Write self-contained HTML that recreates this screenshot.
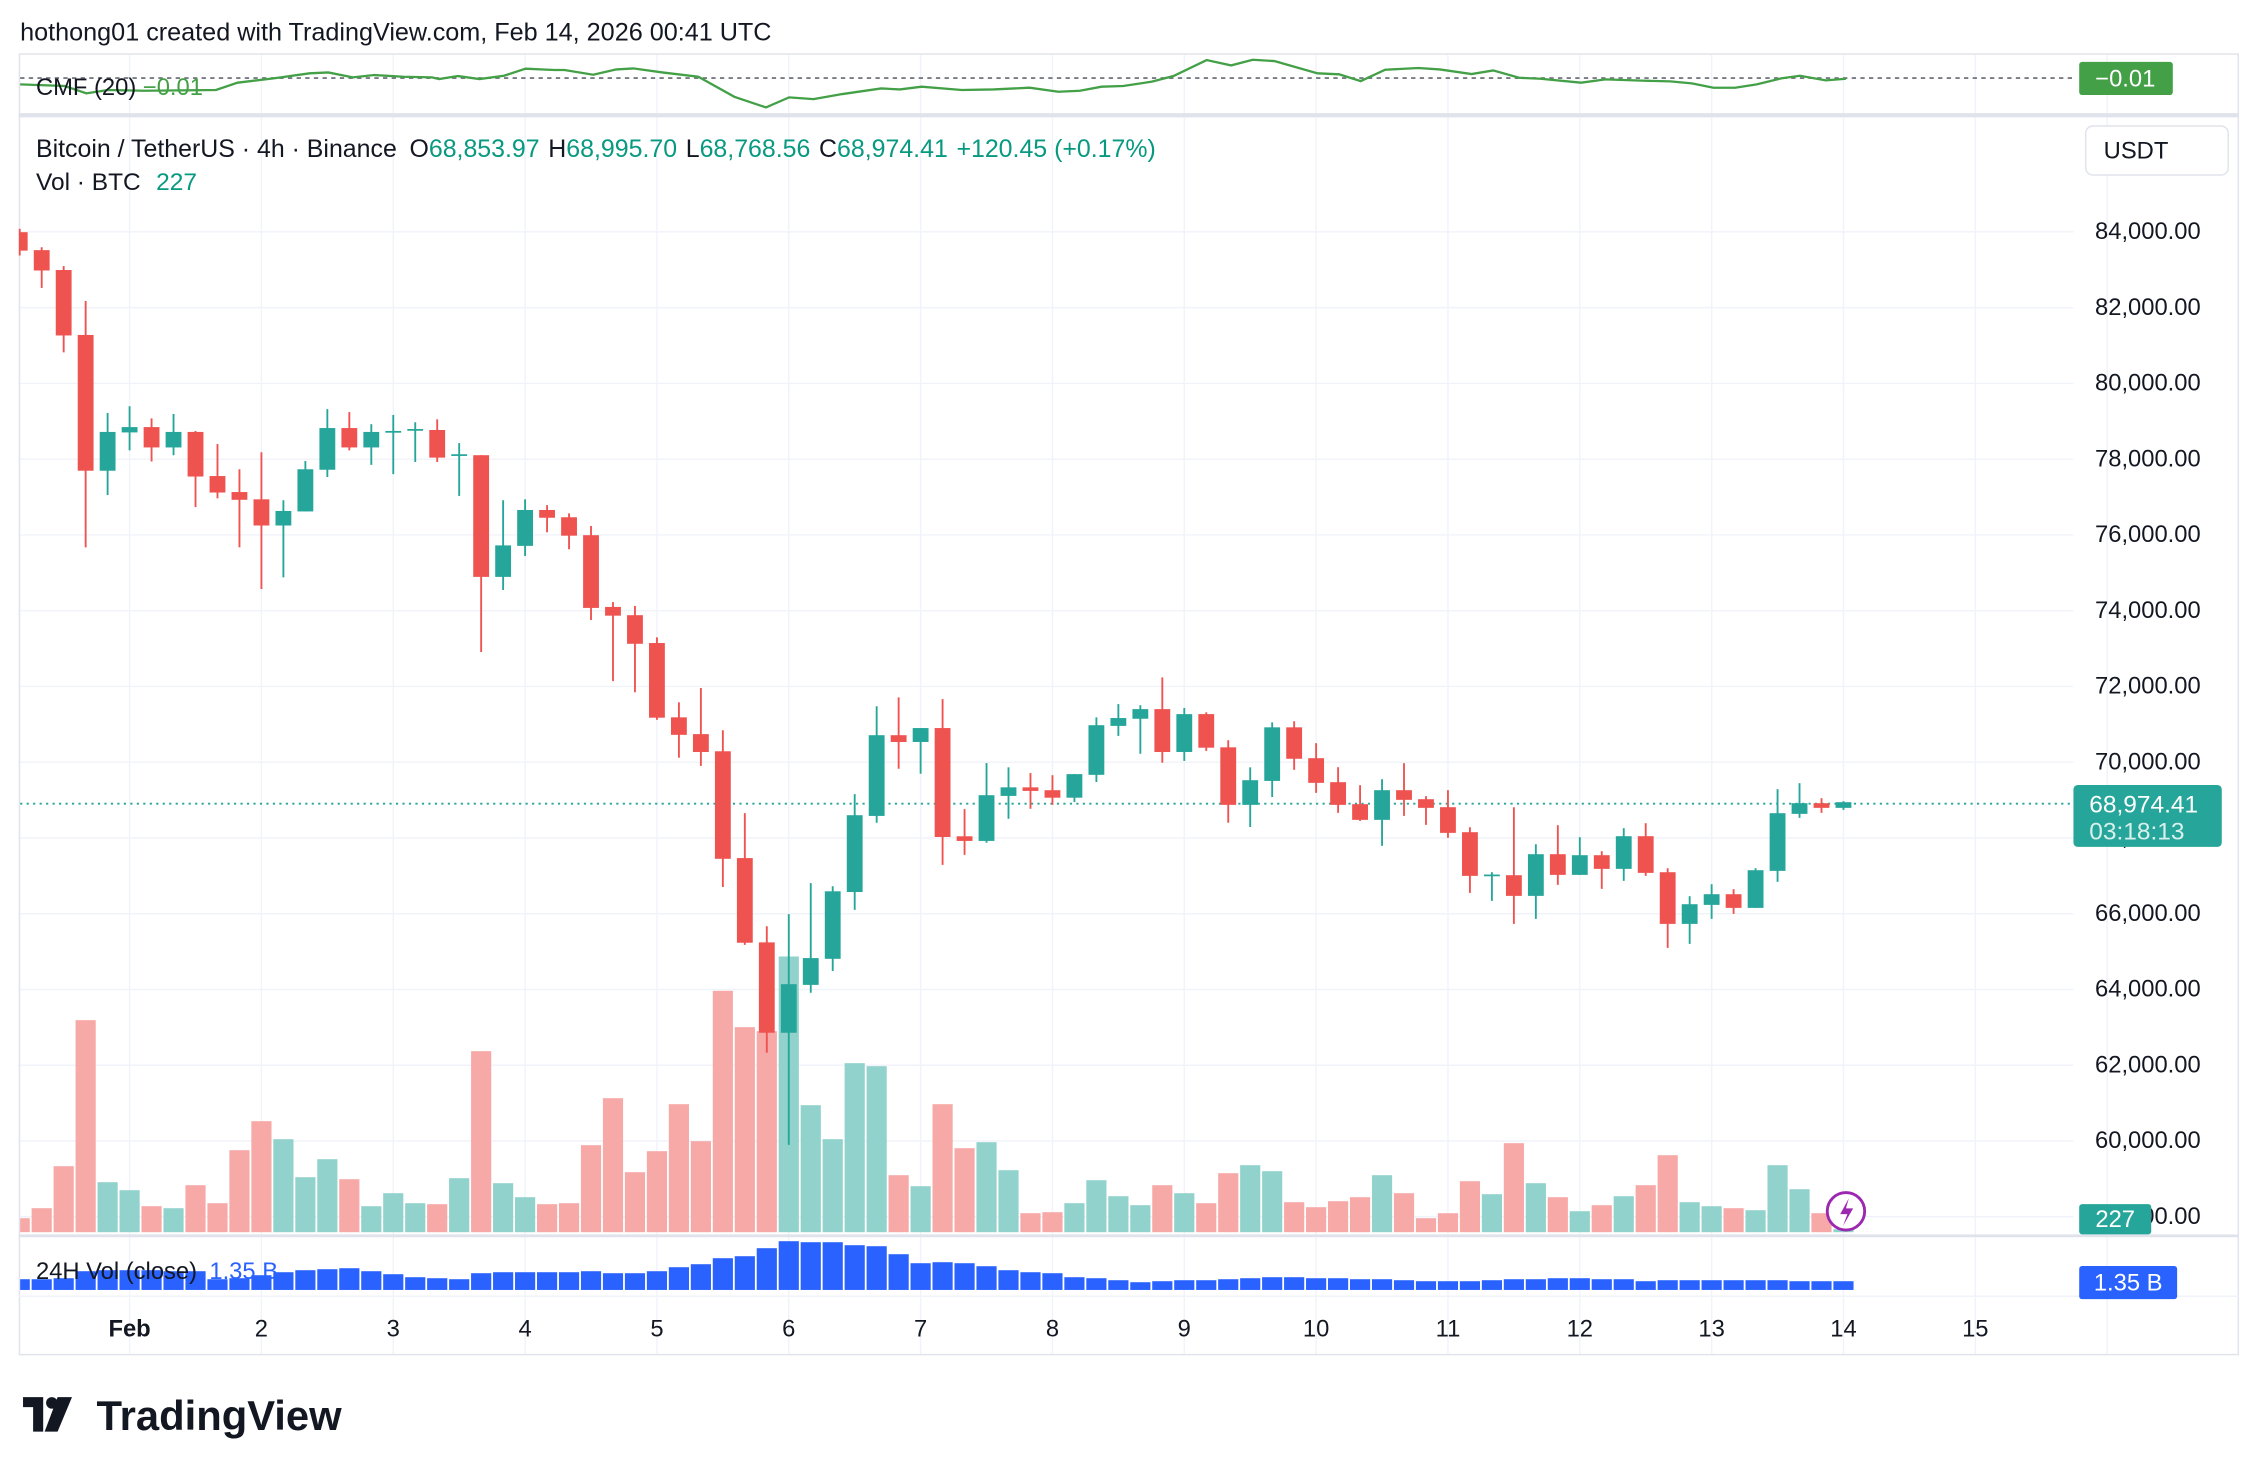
<!DOCTYPE html>
<html><head><meta charset="utf-8"><style>
html,body{margin:0;padding:0;background:#fff;}
svg{display:block;font-family:"Liberation Sans",sans-serif;}
</style></head><body>
<svg id="s" width="2252" height="1472" viewBox="0 0 1564 1022" preserveAspectRatio="none" xmlns="http://www.w3.org/2000/svg">
<rect width="1564" height="1022" fill="#fff"/>
<g id="grid"></g>
<rect x="13.5" y="37.5" width="1541" height="903" fill="none" stroke="#e0e3eb" stroke-width="1"/>
<line x1="13" y1="80" x2="1555" y2="80" stroke="#e0e3eb" stroke-width="3"/>
<line x1="13" y1="858" x2="1555" y2="858" stroke="#e0e3eb" stroke-width="2"/>
<line x1="13" y1="900" x2="1555" y2="900" stroke="#f0f3fa" stroke-width="1"/>
<g id="vol"></g>
<g id="vol24"></g>
<line x1="14" y1="558" x2="1440" y2="558" stroke="#26a69a" stroke-width="1.3" stroke-dasharray="1.5 3"/>
<line x1="14" y1="54.2" x2="1440" y2="54.2" stroke="#787b86" stroke-width="1.3" stroke-dasharray="3 3"/>
<polyline id="cmf" fill="none" stroke="#43a047" stroke-width="1.6"/>
<g id="candles"></g>
<text x="14" y="28" font-size="17.5" fill="#131722">hothong01 created with TradingView.com, Feb 14, 2026 00:41 UTC</text>
<text x="25" y="66" font-size="16.5" fill="#131722">CMF (20) <tspan fill="#43a047">−0.01</tspan></text>
<text x="25" y="109" font-size="17.3" fill="#131722">Bitcoin / TetherUS · 4h · Binance <tspan dx="4">O</tspan><tspan fill="#089981">68,853.97</tspan><tspan dx="6">H</tspan><tspan fill="#089981">68,995.70</tspan><tspan dx="6">L</tspan><tspan fill="#089981">68,768.56</tspan><tspan dx="6">C</tspan><tspan fill="#089981">68,974.41</tspan><tspan dx="6" fill="#089981">+120.45 (+0.17%)</tspan></text>
<text x="25" y="132" font-size="17" fill="#131722">Vol · BTC <tspan dx="6" fill="#089981">227</tspan></text>
<text x="25" y="888" font-size="16.5" fill="#131722">24H Vol (close) <tspan dx="4" fill="#2962ff">1.35 B</tspan></text>
<g id="prices" font-size="16.5" fill="#131722"></g>
<rect x="1448.5" y="87.5" width="99" height="34" rx="5" fill="#fff" stroke="#e0e3eb"/>
<text x="1461" y="110" font-size="16.5" fill="#131722">USDT</text>
<rect x="1444" y="43" width="65" height="23" rx="2" fill="#43a047"/>
<text x="1476" y="60" font-size="16.5" fill="#fff" text-anchor="middle">−0.01</text>
<rect x="1440" y="545" width="103" height="43" rx="3" fill="#26a69a"/>
<text x="1451" y="564" font-size="17" fill="#fff">68,974.41</text>
<text x="1451" y="583" font-size="17" fill="#d8f0ec">03:18:13</text>
<rect x="1444" y="836" width="50" height="21" rx="2" fill="#26a69a"/>
<text x="1469" y="852" font-size="16.5" fill="#fff" text-anchor="middle">227</text>
<rect x="1444" y="879" width="68" height="23" rx="2" fill="#2962ff"/>
<text x="1478" y="896" font-size="16.5" fill="#fff" text-anchor="middle">1.35 B</text>
<circle cx="1282" cy="841" r="13" fill="#fff" stroke="#9c27b0" stroke-width="2"/>
<path d="M1284 832 L1278 843 L1283 843 L1280 851 L1287 839 L1282 839 Z" fill="#9c27b0"/>
<g id="days" font-size="16.5" fill="#131722" text-anchor="middle"></g>
<g transform="translate(16,970)">
<path d="M0 0 H14 V24 H7 V7 H0 Z" fill="#131722"/>
<circle cx="20" cy="4" r="4" fill="#131722"/>
<path d="M24 0 H34 L24 24 H15 Z" fill="#131722"/>
</g>
<text x="67" y="993" font-size="29" font-weight="bold" fill="#131722">TradingView</text>
</svg>
<script>
var NS="http://www.w3.org/2000/svg";
function el(p,t,a){var e=document.createElementNS(NS,t);for(var k in a)e.setAttribute(k,a[k]);document.getElementById(p).appendChild(e);return e;}
var SP=15.26;function X(i){return 90+SP*i;}
for(var k=0;k<=15;k++){var x=90+k*SP*6;el("grid","line",{x1:x,y1:38,x2:x,y2:940,stroke:"#f0f3fa","stroke-width":1});}
for(var p=84000;p>=58000;p-=2000){var y=161+(84000-p)/2000*52.6;el("grid","line",{x1:14,y1:y,x2:1440,y2:y,stroke:"#f0f3fa","stroke-width":1});
 var t=el("prices","text",{x:1455,y:y+5});t.textContent=(p/1000).toFixed(0)+",000.00";}
var dl=["Feb","2","3","4","5","6","7","8","9","10","11","12","13","14","15"];
for(var k=0;k<dl.length;k++){var t=el("days","text",{x:90+k*SP*6,y:928});if(k==0)t.setAttribute("font-weight","bold");t.textContent=dl[k];}
var Z=[function(z){return 152.8+z/2.971},function(z){return 402.8+z/4.032},function(z){return 451.4+z/4.32}];
var C=[
[-5,18,25,63,73,1,0],[-4,56,62,104,140,1,0],[-3,95,103,238,273,1,0],[-2,167,237,517,675,1,0],[-1,398,437,517,567,0,0],
[0,384,427,438,475,0,0],[1,409,427,469,498,1,0],[2,400,437,469,485,0,0],[3,435,437,529,592,1,0],[4,462,528,562,574,1,0],
[5,514,561,577,675,1,0],[6,479,576,630,761,1,0],[7,578,600,630,737,0,0],[8,497,514,601,601,0,0],[9,390,429,515,530,0,0],
[10,396,429,469,475,1,0],[11,421,437,469,505,0,0],[12,402,435,438,524,0,0],[13,417,431,434,499,0,0],[14,411,433,490,499,1,0],
[15,460,483,486,569,0,0],[16,485,485,736,891,1,0],[17,578,671,736,763,0,0],[18,576,598,672,693,0,0],[19,588,598,614,644,1,0],
[20,605,613,651,679,1,0],[21,631,650,800,825,1,0],[22,788,798,816,951,1,0],[23,796,815,874,974,1,0],
[24,160,176,385,391,1,1],[25,342,384,433,497,1,1],[26,302,431,481,520,1,1],[27,420,479,780,859,1,1],[28,652,778,1015,1021,1,1],
[29,969,1014,1267,1323,1,1],[30,935,1131,1267,1581,0,1],[31,848,1058,1133,1155,0,1],[32,857,871,1060,1094,0,1],[33,599,658,873,923,0,1],
[34,353,434,660,679,0,1],[35,328,434,453,528,1,1],[36,414,414,453,542,0,1],[37,333,414,719,797,1,1],[38,641,717,730,769,1,1],
[39,512,602,730,735,0,1],[40,524,580,604,668,0,1],[41,540,580,590,640,1,1],[42,546,588,609,629,1,1],[43,543,543,609,621,0,1],
[44,384,406,545,565,0,1],[45,347,386,408,436,0,1],[46,350,361,388,486,0,1],[47,272,361,481,511,1,1],[48,358,375,481,506,0,1],
[49,370,375,469,478,1,1],[50,448,468,629,679,1,1],[51,524,560,629,691,0,1],[52,398,412,562,607,0,1],[53,395,412,500,531,1,1],
[54,279,324,398,428,1,2],[55,351,396,464,488,1,2],[56,405,462,509,512,1,2],[57,387,420,509,587,0,2],[58,339,420,449,497,1,2],
[59,438,447,473,524,1,2],[60,420,471,548,563,1,2],[61,531,546,677,728,1,2],[62,666,673,677,752,0,2],[63,471,675,737,821,1,2],
[64,582,612,737,806,0,2],[65,525,612,674,704,1,2],[66,561,615,674,674,0,2],[67,603,615,656,716,1,2],[68,534,558,656,692,0,2],
[69,519,558,668,677,1,2],[70,654,666,821,893,1,2],[71,738,762,821,881,0,2],[72,702,732,764,806,0,2],[73,717,732,773,791,1,2],
[74,654,660,773,773,0,2],[75,417,489,662,695,0,2],[76,399,459,491,503,0,2],[77,444,459,473,488,1,2],[78,453,456,473,479,0,2]];
var v1=[[-5,654,1],[-4,624,1],[-3,498,1],[-2,60,1],[-1,546,0],[0,570,0],[1,618,1],[2,624,0],[3,555,1],[4,609,1],[5,450,1],[6,363,1],[7,417,0],[8,531,0],[9,477,0],[10,537,1],[11,618,0],[12,579,0],[13,609,0],[14,612,1],[15,534,0],[16,153,1],[17,549,0],[18,591,0],[19,612,1],[20,609,1],[21,435,1],[22,294,1],[23,516,1],[24,453,1],[25,312,1],[26,423,1],[27,-28,1],[28,81,1],[29,93,1],[30,-131,0],[31,315,0],[32,417,0],[33,189,0],[34,198,0],[35,525,1],[36,558,0],[37,312,1],
[38,444,1],[39,426,0],[40,510,0],[41,639,1],[42,636,1],[43,609,0],[44,540,0],[45,588,0],[46,615,0],[47,555,1],[48,579,0],[49,609,1],[50,519,1],[51,495,0],[52,513,0],[53,606,1],[54,621,1],[55,603,1],[56,591,1],[57,525,0],[58,579,1],[59,654,1],[60,639,1],[61,543,1],[62,582,0],[63,429,1],[64,549,0],[65,591,1],[66,633,0],[67,615,1],[68,588,0],[69,555,1],[70,465,1],[71,606,0],[72,618,0],[73,624,1],[74,630,0],[75,495,0],[76,567,0],[77,639,1],[78,687,0]];
function VY(z){return 694.4+z/4.32;}
v1.forEach(function(v){var x=X(v[0])-7,w=14;if(x<14){w-=14-x;x=14;}var y=VY(v[1]);el("vol","rect",{x:x,y:y,width:w,height:855.5-y,fill:v[2]?"#f7a9a7":"#92d2cc"});});
var b24=[837,837,834,813,810,810,810,813,813,837,834,825,816,810,807,804,813,822,831,834,837,819,816,816,816,816,813,819,819,813,801,792,774,768,744,723,726,726,735,738,762,789,786,789,798,810,816,819,831,834,840,846,843,840,840,837,834,831,831,834,834,837,837,840,843,843,843,840,837,837,834,834,837,837,843,840,840,840,840,840,840,843,843,843];
for(var i=0;i<b24.length;i++){var idx=i-5;var x=X(idx)-7,w=14;if(x<14){w-=14-x;x=14;}var y=VY(b24[i]);el("vol24","rect",{x:x,y:y,width:w,height:895.6-y,fill:"#2962ff"});}
C.forEach(function(c){var f=Z[c[6]],x=X(c[0]),col=c[5]?"#ef5350":"#26a69a";
 var wt=f(c[1]),bt=f(c[2]),bb=f(c[3]),wb=f(c[4]);
 el("candles","line",{x1:x,y1:wt,x2:x,y2:wb,stroke:col,"stroke-width":1.3});
 var bx=x-5.5,bw=11;if(bx<14){bw-=14-bx;bx=14;}
 el("candles","rect",{x:bx,y:bt,width:bw,height:Math.max(1.2,bb-bt),fill:col});});
var cm=[[14,133],[45,138],[60,160],[75,150],[100,152],[150,150],[165,128],[190,115],[215,100],[228,97],[245,112],[260,105],[280,110],[300,112],[305,117],[318,108],[333,117],[350,107],[365,86],[385,90],[392,90],[412,104],[428,88],[440,85],[460,97],[485,110],[510,170],[532,202],[548,172],[565,177],[585,162],[612,145],[625,148],[640,140],[668,150],[690,148],[715,143],[735,155],[750,152],[765,140],[780,138],[800,125],[815,108],[838,60],[855,76],[870,59],[885,63],[915,100],[930,103],[945,123],[962,89],[985,84],[1000,88],[1022,102],[1037,91],[1055,113],[1070,116],[1098,128],[1115,118],[1140,122],[1160,124],[1175,130],[1190,143],[1205,143],[1220,133],[1237,115],[1250,107],[1268,121],[1282,116]];
document.getElementById("cmf").setAttribute("points",cm.map(function(p){return p[0]+","+(27.8+p[1]/4.32).toFixed(1)}).join(" "));
</script>
</body></html>
